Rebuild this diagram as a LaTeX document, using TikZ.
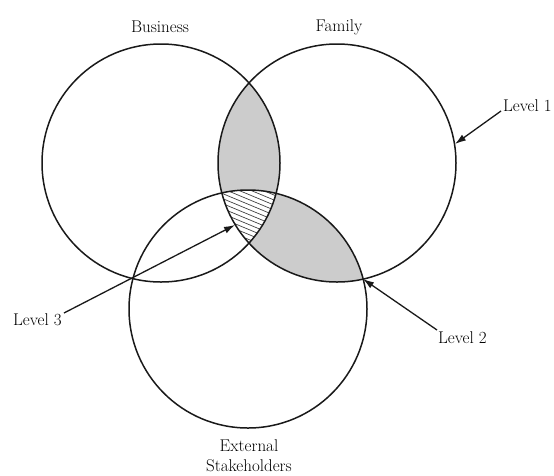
\documentclass[tikz,border=0pt]{standalone}
\usetikzlibrary{arrows.meta}
\begin{document}
\begin{tikzpicture}[x=1pt,y=-1pt,
  ring/.style={circle,draw=black!90,line width=1.5pt,minimum size=238pt,inner sep=0pt},
  lbl/.style={inner sep=1pt,font=\fontsize{17}{20}\selectfont,text=black},
  arr/.style={draw=black!90,line width=1.3pt,-{Latex[length=11pt,width=7pt]}},
  shade/.style={fill=black!20},
  hatch/.style={draw=black!75,line width=0.7pt}]
\useasboundingbox (0,0) rectangle (554,475);
\coordinate (cB) at (161,163);
\coordinate (cF) at (337,163);
\coordinate (cE) at (248,309);
% shaded lenses
\begin{scope}
  \clip (cB) circle (119pt);
  \fill[shade] (cF) circle (119pt);
\end{scope}
\begin{scope}
  \clip (cF) circle (119pt);
  \fill[shade] (cE) circle (119pt);
\end{scope}
% hatched triple intersection
\begin{scope}
  \clip (cB) circle (119pt);
  \clip (cF) circle (119pt);
  \clip (cE) circle (119pt);
  \fill[white] (190,170) rectangle (310,270);
  \foreach \i in {-60,-55,...,120}
    \draw[hatch] (190,170+\i) -- (310,170+\i+50);
\end{scope}
% circles
\node[ring] (biz) at (cB) {};
\node[ring] (fam) at (cF) {};
\node[ring] (ext) at (cE) {};
% labels
\node[lbl] (tb) at (160,27) {Business};
\node[lbl] (tf) at (339,27) {Family};
\node[lbl,align=center] (te) at (249,456) {External\\Stakeholders};
\node[lbl,anchor=west] (l1) at (502,106) {Level 1};
\node[lbl,anchor=west] (l2) at (437,338) {Level 2};
\node[lbl,anchor=west] (l3) at (12,320) {Level 3};
% arrow targets
\coordinate (t1) at (455,144);
\coordinate (t2) at (363,279);
\coordinate (t3) at (235,225);
\draw[arr] ([shift={(-1,5)}]l1.west) -- (t1);
\draw[arr] ([shift={(0,-8)}]l2.west) -- (t2);
\draw[arr] ([shift={(1,-7)}]l3.east) -- (t3);
\end{tikzpicture}
\end{document}
